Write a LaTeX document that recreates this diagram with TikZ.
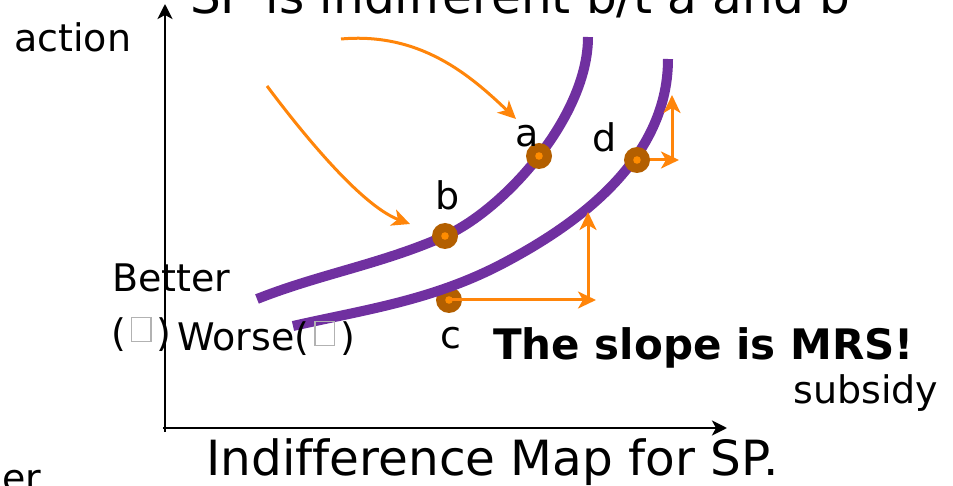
\documentclass[tikz,border=0pt]{standalone}
\usepackage{fontspec}
\setmainfont[Ligatures=NoCommon]{DejaVu Sans}
\usetikzlibrary{arrows.meta}
\definecolor{curvepurple}{RGB}{112,48,160}
\definecolor{arrorange}{RGB}{255,133,10}
\definecolor{dotbrown}{RGB}{179,95,0}
\definecolor{dotcore}{RGB}{255,140,0}
\newcommand\tofu{\hspace{5bp}\raisebox{6bp}{\textcolor{gray!60}{\setlength\fboxsep{0pt}\setlength\fboxrule{1.3bp}\fbox{\rule{0pt}{23bp}\hspace{18bp}}}}\hspace{5bp}}
\begin{document}
\begin{tikzpicture}[x=1bp,y=-1bp,
  lbl/.style={anchor=base west, inner sep=0pt, font=\fontsize{38bp}{44bp}\selectfont},
  ttl/.style={anchor=base west, inner sep=0pt, font=\fontsize{48.5bp}{56bp}\selectfont},
  boldlbl/.style={anchor=base west, inner sep=0pt, font=\fontsize{42bp}{48bp}\selectfont\bfseries},
  axis/.style={line width=2.8bp, -{Stealth[length=15bp,width=15bp,inset=4bp]}},
  icurve/.style={curvepurple, line width=10bp},
  oarrow/.style={arrorange, line width=3bp, -{Stealth[length=18bp,width=17bp,inset=5bp]}},
  pdot/.style={circle, fill=dotbrown, minimum size=26bp, inner sep=0pt,
    path picture={\fill[dotcore] (path picture bounding box.center) circle (3.8bp);}}]
\useasboundingbox (0,0) rectangle (953,486);

% axes
\coordinate (ybot) at (165,432);
\coordinate (ytip) at (165,4);
\coordinate (xleft) at (163,428);
\coordinate (xtip) at (727,428);
\draw[axis] (ybot) -- (ytip);
\draw[axis] (xleft) -- (xtip);

% upper indifference curve
\coordinate (u0) at (257,299);
\coordinate (u1) at (445,236);
\coordinate (u2) at (588,37);
\draw[icurve] (u0) .. controls (320,274) and (382,264) .. (u1)
                   .. controls (505,209) and (588,116) .. (u2);

% point c (partly under the lower curve)
\node[pdot] (pc) at (449,300) {};

% lower indifference curve
\coordinate (l0) at (293,326);
\coordinate (l1) at (500,265);
\coordinate (l2) at (668,59);
\draw[icurve] (l0) .. controls (363,310) and (430,301) .. (l1)
                   .. controls (569,229) and (668,164) .. (l2);

% arrows at c
\coordinate (cx) at (596,300);
\draw[oarrow] (pc.center) -- (cx);
\coordinate (cy0) at (588,301);
\coordinate (cy1) at (588,212);
\draw[oarrow] (cy0) -- (cy1);

% arrows at d
\coordinate (dstart) at (637,160);
\coordinate (dx) at (679,160);
\draw[oarrow] (dstart) -- (dx);
\coordinate (dy0) at (672,161);
\coordinate (dy1) at (672,95);
\draw[oarrow] (dy0) -- (dy1);

% points a, b, d
\node[pdot] (pa) at (539,156) {};
\node[pdot] (pb) at (445,236) {};
\node[pdot] (pd) at (637,160) {};

% curved arrows
\coordinate (a1s) at (341,39);
\coordinate (a1e) at (516,119);
\draw[oarrow] (a1s) .. controls (420,32) and (470,75) .. (a1e);
\coordinate (b1s) at (267,86);
\coordinate (b1e) at (410,224);
\draw[oarrow] (b1s) .. controls (300,130) and (360,205) .. (b1e);

% texts
\node[ttl] (title) at (190,14) {SP is indifferent b/t a and b};
\node[lbl] (action) at (14,52) {action};
\node[lbl] (better) at (112,292) {Better};
\node[lbl] (bettersym) at (111,347) {(\tofu)};
\node[lbl] (worse) at (177,351) {Worse(\tofu)};
\node[lbl] (la) at (515,147) {a};
\node[lbl] (lb) at (435,210) {b};
\node[lbl] (lc) at (440,349) {c};
\node[lbl] (ld) at (592,152) {d};
\node[boldlbl] (slope) at (493,360) {The slope is MRS!};
\node[lbl] (subsidy) at (793,403) {subsidy};
\node[ttl] (caption) at (206,475) {Indifference Map for SP.};
\node[lbl] (er) at (2,491) {er};
\end{tikzpicture}
\end{document}
